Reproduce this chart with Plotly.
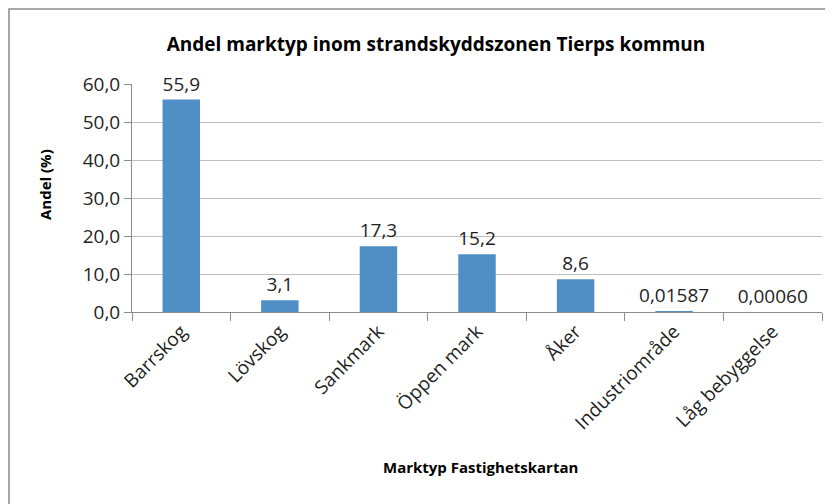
import plotly.graph_objects as go

categories = ["Barrskog", "Lövskog", "Sankmark", "Öppen mark", "Åker", "Industriområde", "Låg bebyggelse"]
values = [55.9, 3.1, 17.3, 15.2, 8.6, 0.01587, 0.0006]
labels = ["55,9", "3,1", "17,3", "15,2", "8,6", "0,01587", "0,00060"]
y_ticks = [0, 10, 20, 30, 40, 50, 60]
y_tick_text = ["0,0", "10,0", "20,0", "30,0", "40,0", "50,0", "60,0"]

FONT = "Open Sans, Liberation Sans, Arial, sans-serif"
GRID = "#BFBFBF"
AXC = "#8C8C8C"
TXT = "#1F1F1F"

# page body has an 8px margin, so figure coords = screen coords - 8
OFF = 8
W, H = 833 - OFF, 504 - OFF
# plot area on screen: x 132..822, y 84..312
L, T = 132 - OFF, 84 - OFF
R, B = W - (822 - OFF), H - (312 - OFF)
pw, ph = W - L - R, H - T - B


def px_x(p):
    return (p - OFF - L) / pw


def px_y(p):
    return (T + ph - (p - OFF)) / ph


fig = go.Figure()
fig.add_trace(go.Bar(
    x=categories, y=values,
    marker=dict(color="#4F8FC6", line=dict(width=0)),
    text=labels, textposition="outside", cliponaxis=False, constraintext="none",
    textfont=dict(family=FONT, size=19, color=TXT),
))

fig.update_layout(
    width=W, height=H,
    paper_bgcolor="white", plot_bgcolor="white",
    margin=dict(l=L, r=R, t=T, b=B),
    bargap=0.62,
    showlegend=False,
    font=dict(family=FONT, size=13, color=TXT),
    title=dict(text="<b>Andel marktyp inom strandskyddszonen Tierps kommun</b>",
               x=(436 - OFF) / W, xanchor="center", y=1 - (44 - OFF) / H, yanchor="middle",
               font=dict(family=FONT, size=19, color="black")),
    xaxis=dict(
        automargin=False,
        tickangle=-45, tickson="boundaries", ticks="outside", ticklen=8,
        tickcolor=AXC, showline=True, linecolor=AXC, showgrid=False,
        tickfont=dict(family=FONT, size=19, color=TXT),
    ),
    yaxis=dict(
        automargin=False,
        range=[0, 60], tickvals=y_ticks, ticktext=y_tick_text,
        ticks="outside", ticklen=7, tickcolor=AXC,
        showline=True, linecolor=AXC, gridcolor=GRID, zeroline=False,
        tickfont=dict(family=FONT, size=19, color=TXT),
    ),
)

# axis titles
fig.add_annotation(text="<b>Marktyp Fastighetskartan</b>", xref="paper", yref="paper",
                   x=px_x(480), y=px_y(467), xanchor="center", yanchor="middle",
                   showarrow=False, font=dict(family=FONT, size=15, color="black"))
fig.add_annotation(text="<b>Andel (%)</b>", xref="paper", yref="paper",
                   x=px_x(45), y=px_y(185), xanchor="center", yanchor="middle",
                   showarrow=False, textangle=-90,
                   font=dict(family=FONT, size=15, color="black"))

# outer chart border
fig.add_shape(type="rect", xref="paper", yref="paper",
              x0=px_x(9), x1=px_x(840),
              y0=px_y(510), y1=px_y(9),
              line=dict(color=AXC, width=1.5), layer="below")

fig.write_html("out.html")
